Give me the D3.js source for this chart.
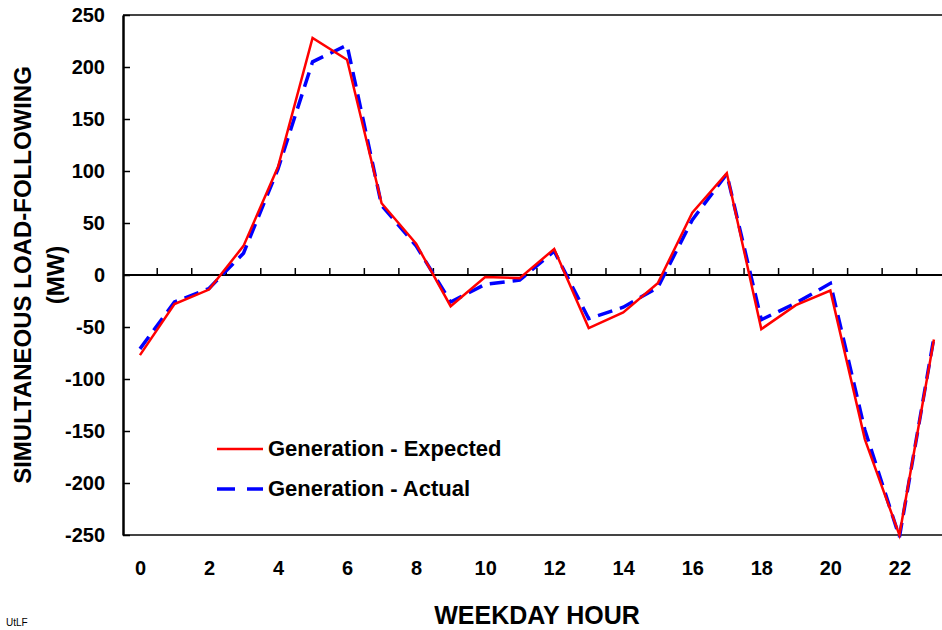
<!DOCTYPE html>
<html>
<head>
<meta charset="utf-8">
<script src="https://cdn.jsdelivr.net/npm/d3@7"></script>
<style>
  body { margin: 0; background: #fff; }
  svg text { font-family: "Liberation Sans", Arial, sans-serif; }
</style>
</head>
<body>
<div id="chart"></div>
<script>
// weekday hours 0..23
const hours = d3.range(0, 24);
const expected = [-77, -28, -14, 28, 104, 228, 207, 69, 30, -30, -2, -3, 25, -51, -36, -8, 60, 98, -52, -29, -15, -158, -250, -62];
const actual   = [-71, -26, -13, 21, 102, 205, 221, 67, 28, -26, -9, -5, 23, -42, -31, -12, 53, 97, -43, -27, -8, -149, -252, -60];
const yTicks = [-250, -200, -150, -100, -50, 0, 50, 100, 150, 200, 250];
const xLabels = [0, 2, 4, 6, 8, 10, 12, 14, 16, 18, 20, 22];
const seriesNames = ["Generation - Expected", "Generation - Actual"];

const width = 942, height = 630;
const plotLeft = 123, plotTop = 15, plotBottom = 535;
const step = 34.52;

const svg = d3.select("#chart").append("svg")
    .attr("width", width)
    .attr("height", height);

const x = d3.scaleLinear()
    .domain([-0.5, 23.5])
    .range([plotLeft - 0.3, plotLeft - 0.3 + 24 * step]);
const y = d3.scaleLinear()
    .domain([-250, 250])
    .range([plotBottom, plotTop]);

const plot = svg.append("g");

// frame (top and bottom edges)
plot.append("line")
    .attr("x1", plotLeft).attr("x2", width)
    .attr("y1", y(250)).attr("y2", y(250))
    .attr("stroke", "#444").attr("stroke-width", 2);
plot.append("line")
    .attr("x1", plotLeft).attr("x2", width)
    .attr("y1", y(-250)).attr("y2", y(-250))
    .attr("stroke", "#444").attr("stroke-width", 2);

// zero line with category ticks
plot.append("line")
    .attr("x1", plotLeft).attr("x2", width)
    .attr("y1", y(0)).attr("y2", y(0))
    .attr("stroke", "#000").attr("stroke-width", 2);
plot.selectAll(".xtick")
    .data(d3.range(0, 23))
    .enter()
    .append("line")
    .attr("class", "xtick")
    .attr("x1", d => x(d + 0.5)).attr("x2", d => x(d + 0.5))
    .attr("y1", y(0)).attr("y2", y(0) - 7)
    .attr("stroke", "#000").attr("stroke-width", 1.5);

// y axis
const yAxis = d3.axisLeft(y)
    .tickValues(yTicks)
    .tickFormat(d => String(d))
    .tickSizeInner(-7)
    .tickSizeOuter(0)
    .tickPadding(18);
const yg = svg.append("g")
    .attr("transform", `translate(${plotLeft},0)`)
    .call(yAxis);
yg.select(".domain").attr("stroke", "#000").attr("stroke-width", 2.5);
yg.selectAll(".tick line").attr("stroke", "#000").attr("stroke-width", 1.5);
yg.selectAll(".tick text")
    .attr("fill", "#000")
    .style("font-size", "20px")
    .style("font-weight", "bold");

// x labels
const xAxis = d3.axisBottom(x)
    .tickValues(xLabels)
    .tickFormat(d => String(d))
    .tickSize(0)
    .tickPadding(26);
const xg = svg.append("g")
    .attr("transform", `translate(0,${plotBottom})`)
    .call(xAxis);
xg.select(".domain").remove();
xg.selectAll(".tick text")
    .attr("fill", "#000")
    .style("font-size", "20px")
    .style("font-weight", "bold");

// lines
const line = d3.line()
    .x((d, i) => x(hours[i]))
    .y(d => y(d));

svg.append("path")
    .datum(actual)
    .attr("d", line)
    .attr("fill", "none")
    .attr("stroke", "#0000ff")
    .attr("stroke-width", 3.5)
    .attr("stroke-dasharray", "15,8");

svg.append("path")
    .datum(expected)
    .attr("d", line)
    .attr("fill", "none")
    .attr("stroke", "#ff0000")
    .attr("stroke-width", 2.5);

// legend
const legend = svg.append("g");
const legendRows = [
    { name: seriesNames[0], color: "#ff0000", width: 2.5, dash: null, y: 449 },
    { name: seriesNames[1], color: "#0000ff", width: 3.5, dash: "18,12", y: 489 }
];
legendRows.forEach(r => {
    legend.append("line")
        .attr("x1", 217).attr("x2", 263)
        .attr("y1", r.y).attr("y2", r.y)
        .attr("stroke", r.color)
        .attr("stroke-width", r.width)
        .attr("stroke-dasharray", r.dash);
    legend.append("text")
        .attr("x", 268).attr("y", r.y + 7)
        .style("font-size", "22px")
        .style("font-weight", "bold")
        .text(r.name);
});

// axis titles
svg.append("text")
    .attr("x", 537).attr("y", 624)
    .attr("text-anchor", "middle")
    .style("font-size", "25px")
    .style("font-weight", "bold")
    .text("WEEKDAY HOUR");

const yTitle = svg.append("text")
    .attr("transform", `translate(0,${(plotTop + plotBottom) / 2}) rotate(-90)`)
    .attr("text-anchor", "middle")
    .style("font-size", "24px")
    .style("font-weight", "bold");
yTitle.append("tspan").attr("x", 0).attr("y", 31).text("SIMULTANEOUS LOAD-FOLLOWING");
yTitle.append("tspan").attr("x", 0).attr("y", 64).text("(MW)");

svg.append("text")
    .attr("x", 6).attr("y", 626)
    .style("font-size", "10px")
    .text("UtLF");
</script>
</body>
</html>
